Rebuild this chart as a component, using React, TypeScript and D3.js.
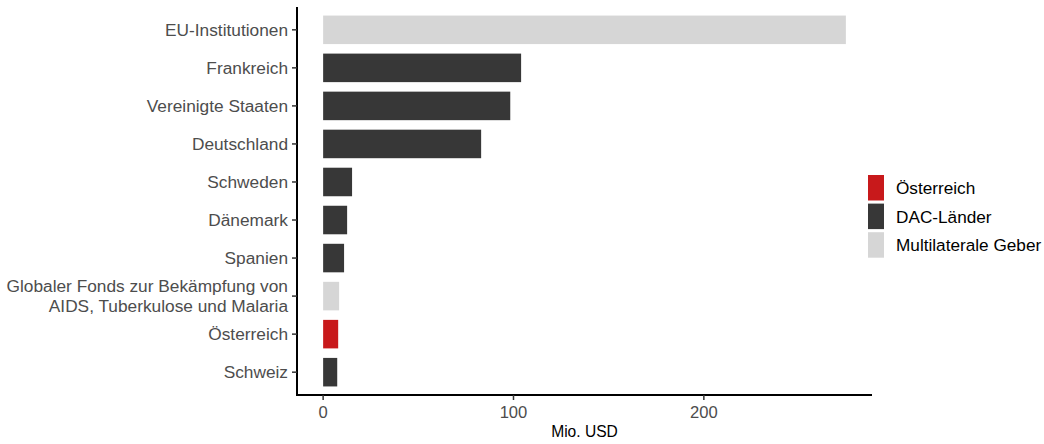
import React from "react";
import * as d3 from "d3";

const categories = [
  "EU-Institutionen",
  "Frankreich",
  "Vereinigte Staaten",
  "Deutschland",
  "Schweden",
  "Dänemark",
  "Spanien",
  "Globaler Fonds zur Bekämpfung von\nAIDS, Tuberkulose und Malaria",
  "Österreich",
  "Schweiz",
];
const values = [274.6, 104, 98.3, 83, 15.2, 12.6, 11, 8.4, 7.9, 7.4];
const groups = [
  "Multilaterale Geber",
  "DAC-Länder",
  "DAC-Länder",
  "DAC-Länder",
  "DAC-Länder",
  "DAC-Länder",
  "DAC-Länder",
  "Multilaterale Geber",
  "Österreich",
  "DAC-Länder",
];
const legendLabels = ["Österreich", "DAC-Länder", "Multilaterale Geber"];
const legendColors = ["#C8191B", "#373737", "#D6D6D6"];
const xTicks = [0, 100, 200];
const xTitle = "Mio. USD";

const W = 1044;
const H = 444;
const panel = { left: 297, right: 872, top: 7, bottom: 395 };
const FONT = "'Liberation Sans', Arial, sans-serif";

export default function App() {
  const maxV = d3.max(values) as number;
  const pad = maxV * 0.05;
  const x = d3.scaleLinear().domain([-pad, maxV + pad]).range([panel.left, panel.right]);
  const n = categories.length;
  const step = (panel.bottom - panel.top) / (n - 1 + 1.2);
  const y = (i: number) => panel.top + step * (0.6 + i);
  const barH = step * 0.75;
  const color = d3.scaleOrdinal<string, string>().domain(legendLabels).range(legendColors);

  return (
    <svg width={W} height={H} style={{ position: "absolute", left: 0, top: 0, fontFamily: FONT }}>
      <rect width={W} height={H} fill="#fff" />
      {categories.map((c, i) => (
        <rect
          key={c}
          x={x(0)}
          y={y(i) - barH / 2}
          width={x(values[i]) - x(0)}
          height={barH}
          fill={color(groups[i])}
        />
      ))}
      <line x1={panel.left} x2={panel.left} y1={panel.top} y2={panel.bottom + 1} stroke="#000" strokeWidth={2} />
      <line x1={panel.left - 1} x2={panel.right} y1={panel.bottom} y2={panel.bottom} stroke="#000" strokeWidth={2} />
      {categories.map((c, i) => {
        const lines = c.split("\n");
        const lh = 19.5;
        const y0 = y(i) - ((lines.length - 1) * lh) / 2;
        return (
          <g key={"t" + i}>
            <line x1={panel.left - 5} x2={panel.left} y1={y(i)} y2={y(i)} stroke="#333" strokeWidth={1.5} />
            <text x={panel.left - 9} y={y0} textAnchor="end" dominantBaseline="central" fontSize={17.3} fill="#4d4d4d">
              {lines.map((l, k) => (
                <tspan key={k} x={panel.left - 9} y={y0 + k * lh}>
                  {l}
                </tspan>
              ))}
            </text>
          </g>
        );
      })}
      {xTicks.map((t) => (
        <g key={"x" + t}>
          <line x1={x(t)} x2={x(t)} y1={panel.bottom} y2={panel.bottom + 5} stroke="#333" strokeWidth={1.5} />
          <text x={x(t)} y={panel.bottom + 17} textAnchor="middle" dominantBaseline="central" fontSize={16.6} fill="#4d4d4d">
            {t}
          </text>
        </g>
      ))}
      <text x={(panel.left + panel.right) / 2} y={431} textAnchor="middle" dominantBaseline="central" fontSize={15.6} fill="#000">
        {xTitle}
      </text>
      {legendLabels.map((l, i) => (
        <g key={"l" + l}>
          <rect x={868} y={175 + i * 28.6} width={16} height={25.5} fill={legendColors[i]} />
          <text x={896} y={175 + i * 28.6 + 13} dominantBaseline="central" fontSize={17.2} fill="#000">
            {l}
          </text>
        </g>
      ))}
    </svg>
  );
}
